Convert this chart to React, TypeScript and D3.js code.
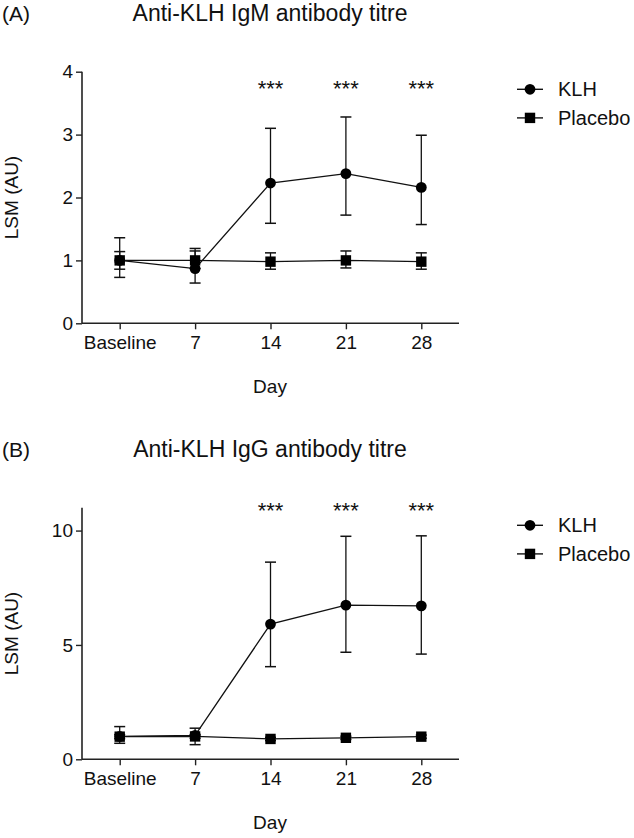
import React, { useEffect, useRef } from "react";
import * as d3 from "d3";

const days = ["Baseline", "7", "14", "21", "28"];
const starDays = ["14", "21", "28"];

// (A) IgM
const igmKlh = [1.0, 0.87, 2.23, 2.38, 2.16];
const igmKlhLow = [0.73, 0.64, 1.59, 1.72, 1.57];
const igmKlhHigh = [1.36, 1.19, 3.1, 3.28, 2.99];
const igmPlacebo = [1.0, 1.0, 0.98, 1.0, 0.98];
const igmPlaceboLow = [0.86, 0.87, 0.86, 0.88, 0.86];
const igmPlaceboHigh = [1.14, 1.15, 1.12, 1.15, 1.12];
const igmTicks = [0, 1, 2, 3, 4];
const igmMax = 4;
const igmStarLevel = 3.62;

// (B) IgG
const iggKlh = [1.0, 1.05, 5.91, 6.74, 6.71];
const iggKlhLow = [0.7, 0.64, 4.05, 4.68, 4.6];
const iggKlhHigh = [1.43, 1.36, 8.62, 9.75, 9.77];
const iggPlacebo = [0.99, 1.0, 0.89, 0.94, 0.99];
const iggPlaceboLow = [0.9, 0.92, 0.82, 0.87, 0.92];
const iggPlaceboHigh = [1.08, 1.08, 0.96, 1.01, 1.06];
const iggTicks = [0, 5, 10];
const iggMax = 11;
const iggStarLevel = 10.56;

const FONT = "'Liberation Sans', Arial, sans-serif";

function drawPanel(svg, opts) {
  const { top, letter, title, klh, klhLow, klhHigh, pl, plLow, plHigh, ticks, max, starLevel } = opts;
  const left = 82, right = 459;
  const plotTop = top + 71.7, plotBottom = top + 323.3;

  const g = svg.append("g");

  const x = d3.scalePoint().domain(days).range([left, right]).padding(0.5);
  const y = d3.scaleLinear().domain([0, max]).range([plotBottom, plotTop]);

  g.append("text").attr("x", 2).attr("y", top + 21).attr("font-size", 21).text(letter);
  g.append("text").attr("x", 270).attr("y", top + 21).attr("font-size", 23)
    .attr("text-anchor", "middle").text(title);

  const yAxis = g.append("g").attr("transform", `translate(${left},0)`)
    .call(d3.axisLeft(y).tickValues(ticks).tickSize(6).tickPadding(3).tickFormat(d3.format("d")));
  const xAxis = g.append("g").attr("transform", `translate(0,${plotBottom})`)
    .call(d3.axisBottom(x).tickSize(6).tickPadding(6));
  [yAxis, xAxis].forEach(a => {
    a.select(".domain").attr("stroke", "#222").attr("stroke-width", 1.6);
    a.selectAll(".tick line").attr("stroke", "#222").attr("stroke-width", 1.4);
    a.selectAll("text").attr("font-family", FONT).attr("font-size", 19).attr("fill", "#111");
  });
  // plain axis lines (no outer ticks)
  yAxis.select(".domain").attr("d", `M0,${plotBottom}V${plotTop}`);
  xAxis.select(".domain").attr("d", `M0,0H${right - left}`).attr("transform", `translate(${left},0)`);

  g.append("text").attr("transform", `translate(18,${(plotTop + plotBottom) / 2}) rotate(-90)`)
    .attr("text-anchor", "middle").attr("font-size", 19).text("LSM (AU)");
  g.append("text").attr("x", 270).attr("y", top + 393).attr("text-anchor", "middle")
    .attr("font-size", 19).text("Day");

  const line = d3.line().x((d, i) => x(days[i])).y(d => y(d));
  g.append("path").attr("d", line(klh)).attr("fill", "none").attr("stroke", "#111").attr("stroke-width", 1.3);
  g.append("path").attr("d", line(pl)).attr("fill", "none").attr("stroke", "#111").attr("stroke-width", 1.3);

  const errs = (lo, hi) => {
    days.forEach((d, i) => {
      const cx = x(d);
      g.append("line").attr("x1", cx).attr("x2", cx).attr("y1", y(lo[i])).attr("y2", y(hi[i]))
        .attr("stroke", "#111").attr("stroke-width", 1.3);
      [lo[i], hi[i]].forEach(v => {
        g.append("line").attr("x1", cx - 5.5).attr("x2", cx + 5.5).attr("y1", y(v)).attr("y2", y(v))
          .attr("stroke", "#111").attr("stroke-width", 1.5);
      });
    });
  };
  errs(klhLow, klhHigh);
  errs(plLow, plHigh);

  g.selectAll(".klh").data(klh).join("circle")
    .attr("cx", (d, i) => x(days[i])).attr("cy", d => y(d)).attr("r", 5.4).attr("fill", "#000");
  g.selectAll(".pl").data(pl).join("rect")
    .attr("x", (d, i) => x(days[i]) - 5.2).attr("y", d => y(d) - 5.2)
    .attr("width", 10.4).attr("height", 10.4).attr("fill", "#000");

  g.selectAll(".star").data(starDays).join("text")
    .attr("x", d => x(d)).attr("y", y(starLevel)).attr("text-anchor", "middle")
    .attr("font-size", 22).text("***");

  // legend
  const legend = [{ name: "KLH", shape: "circle" }, { name: "Placebo", shape: "square" }];
  legend.forEach((l, i) => {
    const ly = top + 89.3 + i * 28.6;
    g.append("line").attr("x1", 517).attr("x2", 543).attr("y1", ly).attr("y2", ly)
      .attr("stroke", "#111").attr("stroke-width", 1.4);
    if (l.shape === "circle") {
      g.append("circle").attr("cx", 530).attr("cy", ly).attr("r", 5.4).attr("fill", "#000");
    } else {
      g.append("rect").attr("x", 530 - 5.2).attr("y", ly - 5.2).attr("width", 10.4).attr("height", 10.4).attr("fill", "#000");
    }
    g.append("text").attr("x", 558).attr("y", ly + 7).attr("font-size", 20).text(l.name);
  });
}

const App = () => {
  const svgRef = useRef(null);

  useEffect(() => {
    const svg = d3.select(svgRef.current);
    svg.selectAll("*").remove();
    svg.attr("font-family", FONT).attr("fill", "#111");

    drawPanel(svg, {
      top: 0, letter: "(A)", title: "Anti-KLH IgM antibody titre",
      klh: igmKlh, klhLow: igmKlhLow, klhHigh: igmKlhHigh,
      pl: igmPlacebo, plLow: igmPlaceboLow, plHigh: igmPlaceboHigh,
      ticks: igmTicks, max: igmMax, starLevel: igmStarLevel,
    });
    drawPanel(svg, {
      top: 436, letter: "(B)", title: "Anti-KLH IgG antibody titre",
      klh: iggKlh, klhLow: iggKlhLow, klhHigh: iggKlhHigh,
      pl: iggPlacebo, plLow: iggPlaceboLow, plHigh: iggPlaceboHigh,
      ticks: iggTicks, max: iggMax, starLevel: iggStarLevel,
    });
  }, []);

  return (
    <svg ref={svgRef} width={634} height={838}
      style={{ position: "absolute", left: 0, top: 0, background: "#fff" }} />
  );
};

export default App;
